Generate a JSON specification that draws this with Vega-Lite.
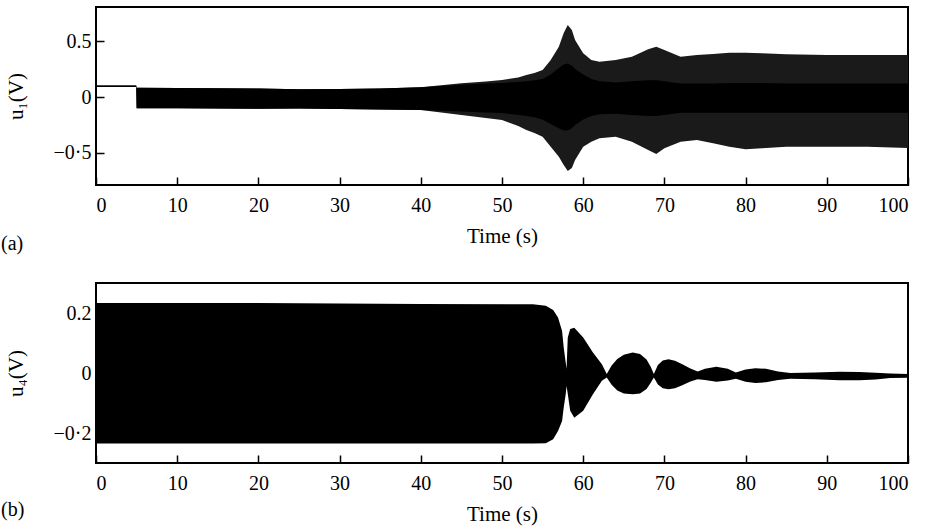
{
  "$schema": "https://vega.github.io/schema/vega-lite/v6.json",
  "padding": {"left": 0, "top": 6, "right": 12, "bottom": 2},
  "background": "white",
  "spacing": 27,
  "config": {
    "view": {"stroke": "black", "strokeWidth": 2},
    "font": "Liberation Serif",
    "axis": {
      "grid": false,
      "domain": false,
      "tickColor": "black",
      "tickWidth": 1.5,
      "labelFont": "Liberation Serif",
      "labelFontSize": 20,
      "labelColor": "black",
      "titleFont": "Liberation Serif",
      "titleFontSize": 21,
      "titleFontWeight": "normal",
      "titleColor": "black"
    },
    "title": {"font": "Liberation Serif", "fontSize": 20, "fontWeight": "normal", "color": "black"}
  },
  "datasets": {
    "u1": [
      {"t": 0, "hi": 0.103, "lo": 0.09, "chi": 0.103, "clo": 0.09},
      {"t": 4.95, "hi": 0.103, "lo": 0.09, "chi": 0.103, "clo": 0.09},
      {"t": 5.0, "hi": 0.083, "lo": -0.101, "chi": 0.083, "clo": -0.101},
      {"t": 10, "hi": 0.08, "lo": -0.1, "chi": 0.08, "clo": -0.1},
      {"t": 20, "hi": 0.075, "lo": -0.105, "chi": 0.075, "clo": -0.105},
      {"t": 25, "hi": 0.069, "lo": -0.103, "chi": 0.069, "clo": -0.103},
      {"t": 30, "hi": 0.071, "lo": -0.107, "chi": 0.071, "clo": -0.107},
      {"t": 35, "hi": 0.076, "lo": -0.112, "chi": 0.076, "clo": -0.112},
      {"t": 40, "hi": 0.087, "lo": -0.116, "chi": 0.087, "clo": -0.116},
      {"t": 45, "hi": 0.122, "lo": -0.161, "chi": 0.11, "clo": -0.13},
      {"t": 48, "hi": 0.138, "lo": -0.188, "chi": 0.12, "clo": -0.138},
      {"t": 50, "hi": 0.152, "lo": -0.205, "chi": 0.125, "clo": -0.143},
      {"t": 52, "hi": 0.174, "lo": -0.259, "chi": 0.135, "clo": -0.16},
      {"t": 53, "hi": 0.196, "lo": -0.295, "chi": 0.14, "clo": -0.17},
      {"t": 54, "hi": 0.214, "lo": -0.321, "chi": 0.15, "clo": -0.18},
      {"t": 55, "hi": 0.241, "lo": -0.354, "chi": 0.16, "clo": -0.2},
      {"t": 56, "hi": 0.33, "lo": -0.444, "chi": 0.2, "clo": -0.24},
      {"t": 57, "hi": 0.449, "lo": -0.533, "chi": 0.26, "clo": -0.28},
      {"t": 57.6, "hi": 0.571, "lo": -0.607, "chi": 0.29, "clo": -0.3},
      {"t": 58.1, "hi": 0.643, "lo": -0.661, "chi": 0.3, "clo": -0.3},
      {"t": 58.6, "hi": 0.598, "lo": -0.634, "chi": 0.28, "clo": -0.28},
      {"t": 59, "hi": 0.509, "lo": -0.563, "chi": 0.25, "clo": -0.25},
      {"t": 60, "hi": 0.39, "lo": -0.444, "chi": 0.2, "clo": -0.2},
      {"t": 61, "hi": 0.33, "lo": -0.399, "chi": 0.16, "clo": -0.17},
      {"t": 62, "hi": 0.315, "lo": -0.369, "chi": 0.14, "clo": -0.155},
      {"t": 64, "hi": 0.33, "lo": -0.354, "chi": 0.13, "clo": -0.15},
      {"t": 66, "hi": 0.36, "lo": -0.399, "chi": 0.14, "clo": -0.16},
      {"t": 68, "hi": 0.426, "lo": -0.473, "chi": 0.15, "clo": -0.17},
      {"t": 69, "hi": 0.449, "lo": -0.509, "chi": 0.15, "clo": -0.17},
      {"t": 70, "hi": 0.42, "lo": -0.458, "chi": 0.14, "clo": -0.16},
      {"t": 72, "hi": 0.36, "lo": -0.399, "chi": 0.12, "clo": -0.14},
      {"t": 74, "hi": 0.375, "lo": -0.384, "chi": 0.12, "clo": -0.14},
      {"t": 76, "hi": 0.384, "lo": -0.413, "chi": 0.12, "clo": -0.14},
      {"t": 78, "hi": 0.396, "lo": -0.444, "chi": 0.125, "clo": -0.14},
      {"t": 80, "hi": 0.396, "lo": -0.467, "chi": 0.125, "clo": -0.14},
      {"t": 82, "hi": 0.39, "lo": -0.458, "chi": 0.125, "clo": -0.14},
      {"t": 85, "hi": 0.381, "lo": -0.444, "chi": 0.12, "clo": -0.14},
      {"t": 90, "hi": 0.375, "lo": -0.444, "chi": 0.12, "clo": -0.14},
      {"t": 95, "hi": 0.375, "lo": -0.444, "chi": 0.12, "clo": -0.14},
      {"t": 100, "hi": 0.375, "lo": -0.455, "chi": 0.12, "clo": -0.14}
    ],
    "u4": [
      {"t": 0, "hi": 0.236, "lo": -0.232},
      {"t": 20, "hi": 0.236, "lo": -0.232},
      {"t": 40, "hi": 0.233, "lo": -0.232},
      {"t": 53.8, "hi": 0.232, "lo": -0.232},
      {"t": 55.4, "hi": 0.227, "lo": -0.231},
      {"t": 56.3, "hi": 0.213, "lo": -0.218},
      {"t": 56.9, "hi": 0.188, "lo": -0.19},
      {"t": 57.4, "hi": 0.143, "lo": -0.157},
      {"t": 57.6, "hi": 0.088, "lo": -0.112},
      {"t": 57.85, "hi": 0.037, "lo": -0.067},
      {"t": 57.95, "hi": 0.017, "lo": -0.04},
      {"t": 58.1, "hi": 0.121, "lo": -0.067},
      {"t": 58.4, "hi": 0.15, "lo": -0.123},
      {"t": 58.9, "hi": 0.154, "lo": -0.146},
      {"t": 60.0, "hi": 0.121, "lo": -0.123},
      {"t": 61.2, "hi": 0.071, "lo": -0.068},
      {"t": 62.3, "hi": 0.032, "lo": -0.023},
      {"t": 62.9, "hi": 0.0, "lo": -0.012},
      {"t": 63.5, "hi": 0.028, "lo": -0.036},
      {"t": 64.2, "hi": 0.05, "lo": -0.055},
      {"t": 65.0, "hi": 0.064, "lo": -0.065},
      {"t": 66.1, "hi": 0.071, "lo": -0.068},
      {"t": 67.0, "hi": 0.066, "lo": -0.065},
      {"t": 67.8, "hi": 0.048, "lo": -0.05},
      {"t": 68.3, "hi": 0.025, "lo": -0.03},
      {"t": 68.7, "hi": 0.0, "lo": -0.012},
      {"t": 69.2, "hi": 0.03, "lo": -0.035},
      {"t": 69.8, "hi": 0.045, "lo": -0.048},
      {"t": 70.5, "hi": 0.049, "lo": -0.051},
      {"t": 71.3, "hi": 0.044, "lo": -0.048},
      {"t": 72.2, "hi": 0.032, "lo": -0.038},
      {"t": 73.2, "hi": 0.018, "lo": -0.025},
      {"t": 74.1, "hi": 0.008, "lo": -0.018},
      {"t": 75.0, "hi": 0.017, "lo": -0.02},
      {"t": 76.4, "hi": 0.024, "lo": -0.026},
      {"t": 77.8, "hi": 0.017, "lo": -0.022},
      {"t": 78.8, "hi": 0.005, "lo": -0.016},
      {"t": 80.0, "hi": 0.015, "lo": -0.026},
      {"t": 81.2, "hi": 0.019, "lo": -0.03},
      {"t": 82.5, "hi": 0.017, "lo": -0.028},
      {"t": 84.0, "hi": 0.008, "lo": -0.02},
      {"t": 85.5, "hi": 0.003, "lo": -0.016},
      {"t": 87.0, "hi": 0.004, "lo": -0.017},
      {"t": 88.5, "hi": 0.005, "lo": -0.018},
      {"t": 91.6, "hi": 0.007, "lo": -0.021},
      {"t": 94.0, "hi": 0.006, "lo": -0.021},
      {"t": 96.0, "hi": 0.004, "lo": -0.019},
      {"t": 97.8, "hi": 0.001, "lo": -0.014},
      {"t": 100, "hi": 0.0, "lo": -0.013}
    ]
  },
  "vconcat": [
    {
      "width": 812,
      "height": 178,
      "title": {"text": "(a)", "orient": "bottom", "anchor": "start", "frame": "bounds", "offset": -12, "dx": -4},
      "data": {"name": "u1"},
      "layer": [
        {
          "mark": {"type": "area", "color": "#1a1a1a"},
          "encoding": {
            "x": {"field": "t", "type": "quantitative", "scale": {"domain": [0, 100], "nice": false}, "axis": {"values": [0,10,20,30,40,50,60,70,80,90,100], "tickSize": -8, "labelPadding": 18, "title": "Time (s)", "titlePadding": 10}},
            "y": {"field": "hi", "type": "quantitative", "scale": {"domain": [-0.786, 0.804], "nice": false, "zero": false}, "axis": {"values": [-0.5, 0, 0.5], "tickSize": -8, "labelPadding": 13, "labelExpr": "datum.value == 0.5 ? '0.5' : datum.value == 0 ? '0' : '−0·5'", "title": "u₁(V)", "titlePadding": 27}},
            "y2": {"field": "lo"}
          }
        },
        {
          "mark": {"type": "area", "color": "black"},
          "encoding": {
            "x": {"field": "t", "type": "quantitative"},
            "y": {"field": "chi", "type": "quantitative"},
            "y2": {"field": "clo"}
          }
        }
      ]
    },
    {
      "width": 812,
      "height": 180,
      "title": {"text": "(b)", "orient": "bottom", "anchor": "start", "frame": "bounds", "offset": -24, "dx": -4},
      "data": {"name": "u4"},
      "mark": {"type": "area", "color": "black"},
      "encoding": {
        "x": {"field": "t", "type": "quantitative", "scale": {"domain": [0, 100], "nice": false}, "axis": {"values": [0,10,20,30,40,50,60,70,80,90,100], "tickSize": -8, "labelPadding": 18, "title": "Time (s)", "titlePadding": 10}},
        "y": {"field": "hi", "type": "quantitative", "scale": {"domain": [-0.297, 0.303], "nice": false, "zero": false}, "axis": {"values": [-0.2, 0, 0.2], "tickSize": -8, "labelPadding": 13, "labelExpr": "datum.value == 0.2 ? '0.2' : datum.value == 0 ? '0' : '−0·2'", "title": "u₄(V)", "titlePadding": 27}},
        "y2": {"field": "lo"}
      }
    }
  ]
}
